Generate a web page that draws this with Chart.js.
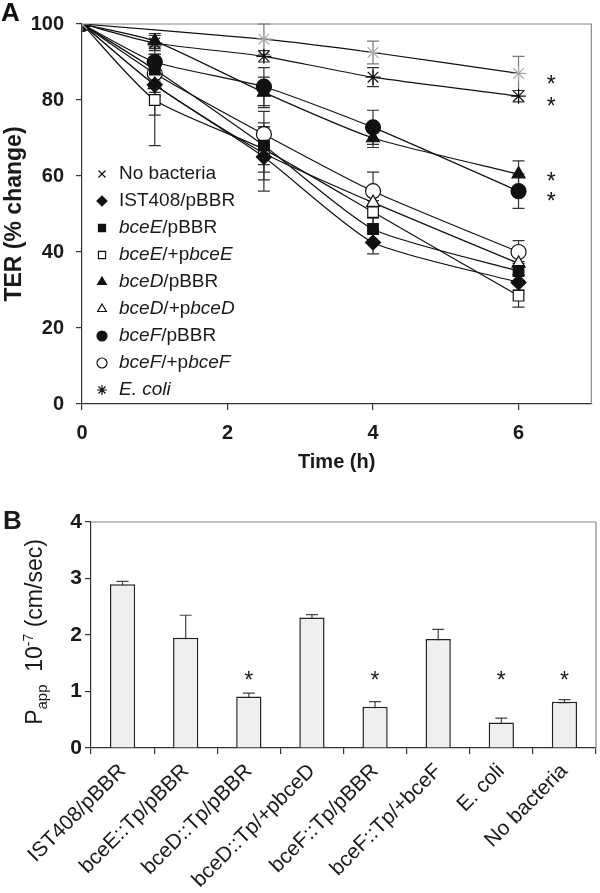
<!DOCTYPE html>
<html>
<head>
<meta charset="utf-8">
<script src="https://cdn.jsdelivr.net/npm/chart.js@4.4.0/dist/chart.umd.min.js"></script>
<style>
  html, body { margin: 0; padding: 0; background: #fff; }
  #wrapA { position: absolute; left: 0; top: 0; width: 600px; height: 480px; }
  #wrapB { position: absolute; left: 0; top: 480px; width: 600px; height: 413px; }
</style>
</head>
<body>
<div id="wrapA"><canvas id="terChart" width="600" height="480"></canvas></div>
<div id="wrapB"><canvas id="pappChart" width="600" height="413"></canvas></div>
<script>
// ---- panel A data (TER, % change) ----
const hours = [0, 1, 2.5, 4, 6];
const noBacteria = [100, null, 96, 92.5, 87];
const ist408 = [100, 84, 65, 42.5, 32];
const bceE = [100, 88, 68, 46, 35];
const bceEComp = [100, 80, 67, 50.5, 28.5];
const bceD = [100, 95.5, 82, 70, 60.5];
const bceDComp = [100, 84, 66, 53, 37];
const bceF = [100, 90, 83.5, 72.8, 56];
const bceFComp = [100, 87, 71, 56, 40];
const eColi = [100, 95, 91.5, 86, 81];

const noBacteriaErr = [0, 0, 4, 3, 4.5];
const ist408Err = [0, 3, 9, 3, 2];
const bceEErr = [0, 3, 5, 3, 2.5];
const bceECompErr = [0, 12, 6, 3, 3];
const bceDErr = [0, 2, 4, 2.5, 3.5];
const bceDCompErr = [0, 8, 7, 4, 3];
const bceFErr = [0, 4, 5, 4.5, 4.5];
const bceFCompErr = [0, 5, 6, 5, 3];
const eColiErr = [0, 2, 1.5, 2.5, 1.5];

// legend text pieces: [text, italic]
const legendLabels = [
  [['No bacteria', false]],
  [['IST408/pBBR', false]],
  [['bceE', true], ['/pBBR', false]],
  [['bceE', true], ['/+p', false], ['bceE', true]],
  [['bceD', true], ['/pBBR', false]],
  [['bceD', true], ['/+p', false], ['bceD', true]],
  [['bceF', true], ['/pBBR', false]],
  [['bceF', true], ['/+p', false], ['bceF', true]],
  [['E. coli', true]]
];

// significance marks next to the 6 h points
const starTime = 6.45;
const starValues = [85.5, 79.8, 60, 54.8];

// ---- panel B data (Papp 10^-7 cm/sec) ----
const strains = ['IST408/pBBR', 'bceE::Tp/pBBR', 'bceD::Tp/pBBR', 'bceD::Tp/+pbceD',
  'bceF::Tp/pBBR', 'bceF::Tp/+bceF', 'E. coli', 'No bacteria'];
const pappValues = [2.9, 1.95, 0.91, 2.31, 0.73, 1.93, 0.45, 0.82];
const pappErr = [0.05, 0.4, 0.06, 0.05, 0.09, 0.17, 0.08, 0.035];
const pappSignificant = [false, false, true, false, true, false, true, true];
const starLevelB = 1.29;

const FONT = '"Liberation Sans", Arial, sans-serif';

function mkSeries(label, values, errors, style, fill, color) {
  return {
    label: label,
    data: values.map((v, i) => ({ x: hours[i], y: v })),
    errors: errors,
    borderColor: color || '#111',
    borderWidth: 1.2,
    pointStyle: style,
    pointRadius: 7.5,
    pointHoverRadius: 7.5,
    pointBorderColor: color || '#111',
    pointBorderWidth: 1.2,
    pointBackgroundColor: fill,
    tension: 0.2,
    spanGaps: true,
    fill: false
  };
}

const legendMarks = ['crossRot', 'rectRot', 'rect', 'rect', 'triangle', 'triangle', 'circle', 'circle', 'star'];
const legendFilled = [false, true, true, false, true, false, true, false, false];

// error bars for both panels
const errorBars = {
  id: 'errorBars',
  beforeDatasetsDraw(chart) {
    const ctx = chart.ctx;
    const yScale = chart.scales.y;
    ctx.save();
    chart.data.datasets.forEach((ds, di) => {
      const meta = chart.getDatasetMeta(di);
      ds.errors.forEach((e, j) => {
        const raw = ds.data[j];
        const v = (raw && typeof raw === 'object') ? raw.y : raw;
        if (!e || v == null) return;
        const x = meta.data[j].x;
        const top = yScale.getPixelForValue(v + e);
        const bot = yScale.getPixelForValue(v - e);
        ctx.strokeStyle = ds.errColor || '#333';
        ctx.lineWidth = 1.2;
        ctx.beginPath();
        ctx.moveTo(x, top); ctx.lineTo(x, bot);
        ctx.moveTo(x - 6, top); ctx.lineTo(x + 6, top);
        ctx.moveTo(x - 6, bot); ctx.lineTo(x + 6, bot);
        ctx.stroke();
      });
    });
    ctx.restore();
  }
};

// gray top and right border of the plot box
const boxFrame = {
  id: 'boxFrame',
  beforeDatasetsDraw(chart) {
    const a = chart.chartArea;
    const ctx = chart.ctx;
    ctx.save();
    ctx.strokeStyle = '#888';
    ctx.lineWidth = 1.2;
    ctx.beginPath();
    ctx.moveTo(a.left, a.top); ctx.lineTo(a.right, a.top); ctx.lineTo(a.right, a.bottom);
    ctx.stroke();
    ctx.restore();
  }
};

const legendA = {
  id: 'legendA',
  afterDraw(chart) {
    const ctx = chart.ctx;
    ctx.save();
    legendLabels.forEach((parts, i) => {
      const y = 174 + i * 27;
      ctx.fillStyle = legendFilled[i] ? '#111' : '#fff';
      ctx.strokeStyle = '#111';
      ctx.lineWidth = 1.2;
      Chart.helpers.drawPoint(ctx, { pointStyle: legendMarks[i], radius: 5, borderWidth: 1.2 }, 102, y);
      let x = 119;
      ctx.fillStyle = '#1a1a1a';
      ctx.textBaseline = 'middle';
      ctx.textAlign = 'left';
      parts.forEach(([txt, it]) => {
        ctx.font = (it ? 'italic ' : '') + '19px ' + FONT;
        ctx.fillText(txt, x, y);
        x += ctx.measureText(txt).width;
      });
    });
    // asterisks
    ctx.font = '23px ' + FONT;
    ctx.fillStyle = '#111';
    ctx.textAlign = 'center';
    ctx.textBaseline = 'alphabetic';
    starValues.forEach(v => {
      ctx.fillText('*', chart.scales.x.getPixelForValue(starTime), chart.scales.y.getPixelForValue(v) + 13);
    });
    // panel letter
    ctx.font = 'bold 26px ' + FONT;
    ctx.textAlign = 'left';
    ctx.fillText('A', 1, 21);
    ctx.restore();
  }
};

new Chart(document.getElementById('terChart'), {
  type: 'line',
  data: {
    datasets: [
      Object.assign(mkSeries('No bacteria', noBacteria, noBacteriaErr, 'star', '#aaa', '#aaa'), { borderColor: '#111', errColor: '#777' }),
      mkSeries('IST408/pBBR', ist408, ist408Err, 'rectRot', '#111'),
      mkSeries('bceE/pBBR', bceE, bceEErr, 'rect', '#111'),
      mkSeries('bceE/+pbceE', bceEComp, bceECompErr, 'rect', '#fff'),
      mkSeries('bceD/pBBR', bceD, bceDErr, 'triangle', '#111'),
      mkSeries('bceD/+pbceD', bceDComp, bceDCompErr, 'triangle', '#fff'),
      mkSeries('bceF/pBBR', bceF, bceFErr, 'circle', '#111'),
      mkSeries('bceF/+pbceF', bceFComp, bceFCompErr, 'circle', '#fff'),
      mkSeries('E. coli', eColi, eColiErr, 'star', '#111')
    ]
  },
  options: {
    responsive: false,
    animation: false,
    layout: { padding: { top: 22, right: 2, left: 0, bottom: 0 } },
    plugins: { legend: { display: false }, tooltip: { enabled: false } },
    scales: {
      x: {
        type: 'linear', min: 0, max: 7,
        afterFit: s => { s.height = 76; },
        border: { color: '#333', width: 1.2 },
        grid: { drawOnChartArea: false, tickLength: 6, color: '#333', lineWidth: 1.2 },
        ticks: { stepSize: 2, includeBounds: false, padding: 11, color: '#1a1a1a',
          font: { family: FONT, size: 20, weight: 'bold' } },
        title: { display: true, text: 'Time (h)', color: '#1a1a1a', padding: { top: 4, bottom: 6 },
          font: { family: FONT, size: 20, weight: 'bold' } }
      },
      y: {
        min: 0, max: 100,
        afterFit: s => { s.width = 82; },
        border: { color: '#333', width: 1.2 },
        grid: { drawOnChartArea: false, tickLength: 6, color: '#333', lineWidth: 1.2 },
        ticks: { stepSize: 20, padding: 12, color: '#1a1a1a',
          font: { family: FONT, size: 20, weight: 'bold' } },
        title: { display: true, text: 'TER (% change)', color: '#1a1a1a', padding: { top: 1, bottom: 0 },
          font: { family: FONT, size: 23, weight: 'bold' } }
      }
    }
  },
  plugins: [boxFrame, errorBars, legendA]
});

// panel B extras: y title with sub/superscript, asterisks, letter
const extrasB = {
  id: 'extrasB',
  afterDraw(chart) {
    const ctx = chart.ctx;
    const a = chart.chartArea;
    ctx.save();
    ctx.fillStyle = '#1a1a1a';
    ctx.font = '23px ' + FONT;
    ctx.textAlign = 'center';
    chart.data.labels.forEach((l, i) => {
      if (!pappSignificant[i]) return;
      ctx.fillText('*', chart.scales.x.getPixelForValue(i), chart.scales.y.getPixelForValue(starLevelB) + 13);
    });
    // rotated title
    const parts = [['P', 23, 0], ['app', 15, 5], ['  10', 23, 0], ['-7', 14, -9], [' (cm/sec)', 23, 0]];
    ctx.translate(34, (a.top + a.bottom) / 2 - 3);
    ctx.rotate(-Math.PI / 2);
    ctx.textAlign = 'left';
    let total = 0;
    parts.forEach(([t, sz]) => { ctx.font = sz + 'px ' + FONT; total += ctx.measureText(t).width; });
    let x = -total / 2;
    parts.forEach(([t, sz, dy]) => {
      ctx.font = sz + 'px ' + FONT;
      ctx.fillText(t, x, 8 + dy);
      x += ctx.measureText(t).width;
    });
    ctx.setTransform(1, 0, 0, 1, 0, 0);
    ctx.font = 'bold 26px ' + FONT;
    ctx.fillText('B', 3, 49);
    ctx.restore();
  }
};

new Chart(document.getElementById('pappChart'), {
  type: 'bar',
  data: {
    labels: strains,
    datasets: [{
      data: pappValues,
      errors: pappErr,
      errColor: '#444',
      backgroundColor: '#efefef',
      borderColor: '#222',
      borderWidth: 1.5,
      barPercentage: 0.4,
      categoryPercentage: 1
    }]
  },
  options: {
    responsive: false,
    animation: false,
    layout: { padding: { top: 42, right: 4, left: 0, bottom: 0 } },
    plugins: { legend: { display: false }, tooltip: { enabled: false } },
    scales: {
      x: {
        afterFit: s => { s.height = 145; },
        border: { color: '#333', width: 1.2 },
        grid: { drawOnChartArea: false, tickLength: 6, color: '#333', lineWidth: 1.2 },
        ticks: { minRotation: 45, maxRotation: 45, padding: 5, color: '#1a1a1a',
          font: { family: FONT, size: 21 } }
      },
      y: {
        min: 0, max: 4,
        afterFit: s => { s.width = 91; },
        border: { color: '#333', width: 1.2 },
        grid: { drawOnChartArea: false, tickLength: 6, color: '#333', lineWidth: 1.2 },
        ticks: { stepSize: 1, padding: 3, color: '#1a1a1a',
          font: { family: FONT, size: 21, weight: 'bold' } }
      }
    }
  },
  plugins: [boxFrame, errorBars, extrasB]
});
</script>
</body>
</html>
